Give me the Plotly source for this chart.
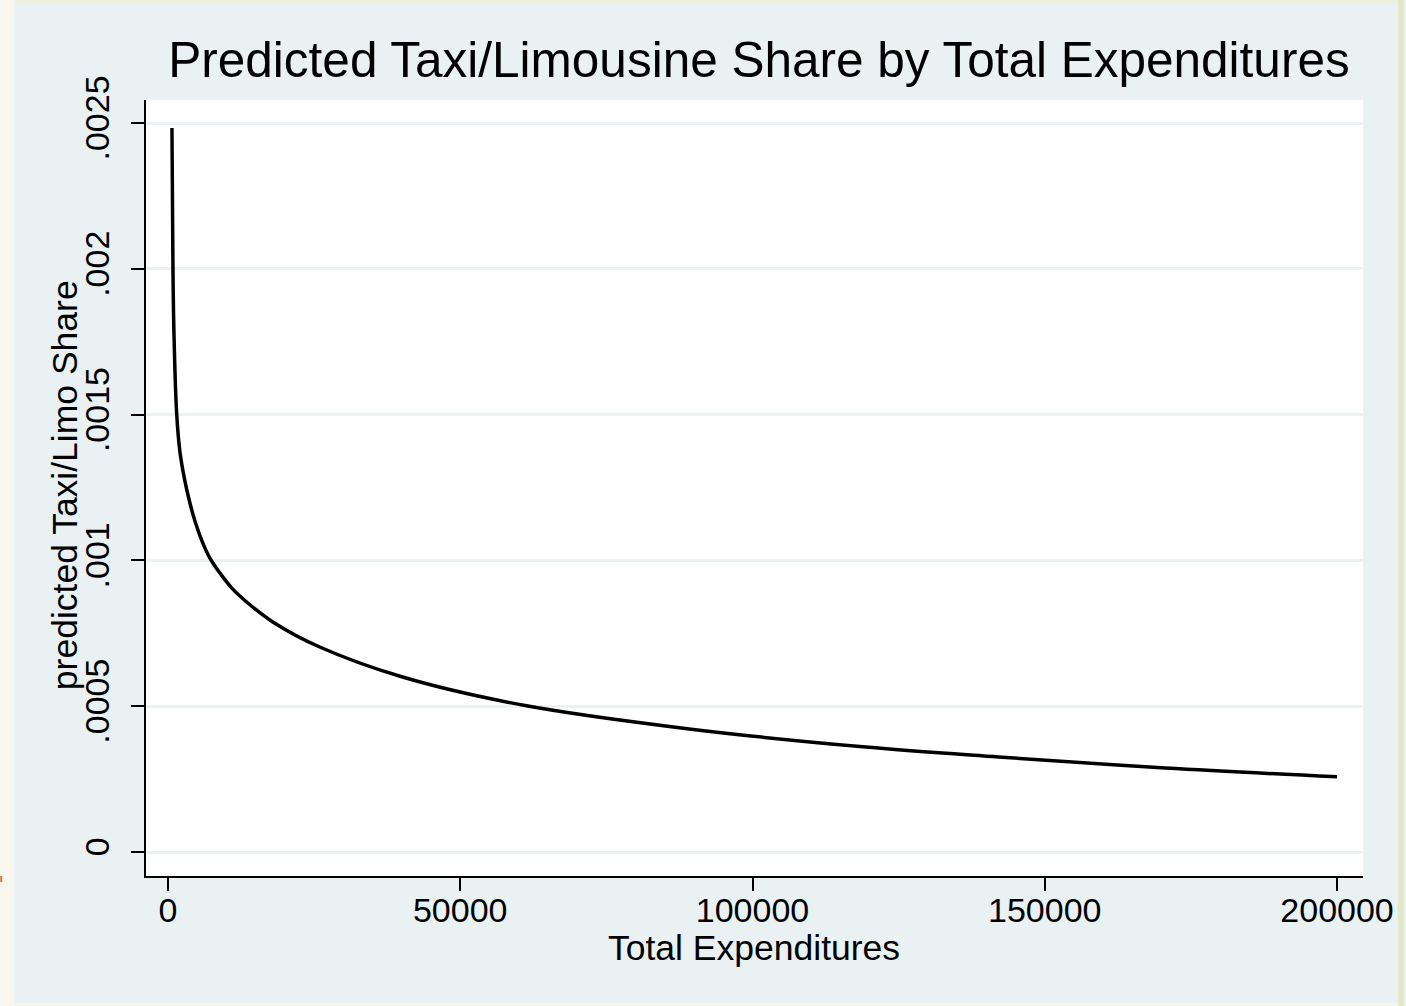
import plotly.graph_objects as go

# Predicted share curve, sampled along total expenditures
total_expenditures = [683, 854, 1025, 1486, 2050, 2903, 3757, 4611, 5807, 7173, 8881,
                      10931, 13663, 17933, 25960, 40136, 60631, 89153, 119383, 142099,
                      170620, 200000]
predicted_share = [0.002483, 0.002006, 0.001780, 0.001505, 0.001372, 0.001272, 0.001197,
                   0.001135, 0.001067, 0.001008, 0.000957, 0.000905, 0.000854, 0.000789,
                   0.000703, 0.000600, 0.000504, 0.000422, 0.000360, 0.000326, 0.000288,
                   0.000258]

x_ticks = [0, 50000, 100000, 150000, 200000]
x_tick_labels = ["0", "50000", "100000", "150000", "200000"]
y_ticks = [0, 0.0005, 0.001, 0.0015, 0.002, 0.0025]
y_tick_labels = ["0", ".0005", ".001", ".0015", ".002", ".0025"]

W, H = 1406, 1006
L, R, T, B = 146, 41, 100, 130
FONT = "Liberation Sans, Arial, sans-serif"


def px_to_paper(px, py):
    return (px - L) / (W - L - R), (H - B - py) / (H - T - B)


def page_rect(x0, y0, x1, y1, color):
    a0, b0 = px_to_paper(x0, y0)
    a1, b1 = px_to_paper(x1, y1)
    return dict(type="rect", xref="paper", yref="paper", x0=a0, y0=b1, x1=a1, y1=b0,
                fillcolor=color, line=dict(width=0), layer="below")


fig = go.Figure()
fig.add_trace(go.Scatter(
    x=total_expenditures, y=predicted_share, mode="lines",
    line=dict(color="black", width=3.5, shape="spline", smoothing=1.0),
    showlegend=False, hoverinfo="skip",
))

shapes = [
    page_rect(0, 0, W, 4, "#eef1dd"),
    page_rect(0, 0, 14, H, "#f7f7ee"),
    page_rect(1400, 0, W, H, "#e1e9c8"),
    page_rect(14, 1003, 1400, H, "#f3f5e6"),
    page_rect(0, 876, 2, 882, "#e07030"),
]

title_x, _ = px_to_paper(760, 0)
xt_x, xt_y = px_to_paper(755, 948)
yt_x, yt_y = px_to_paper(65, 485)
annotations = [
    dict(text="Total Expenditures", xref="paper", yref="paper", x=xt_x, y=xt_y,
         xanchor="center", yanchor="middle", showarrow=False,
         font=dict(size=35.5, family=FONT, color="black")),
    dict(text="predicted Taxi/Limo Share", xref="paper", yref="paper", x=yt_x, y=yt_y,
         xanchor="center", yanchor="middle", showarrow=False, textangle=-90,
         font=dict(size=35.5, family=FONT, color="black")),
]

fig.update_layout(
    width=W, height=H,
    margin=dict(l=L, r=R, t=T, b=B),
    paper_bgcolor="#e9f1f3",
    plot_bgcolor="white",
    font=dict(family=FONT, color="black", size=34),
    title=dict(text="Predicted Taxi/Limousine Share by Total Expenditures",
               font=dict(size=49.5, family=FONT, color="black"),
               x=title_x, xanchor="center", xref="paper", y=1 - 60 / H, yanchor="middle"),
    shapes=shapes,
    annotations=annotations,
    xaxis=dict(
        range=[-3757, 204440], tickvals=x_ticks, ticktext=x_tick_labels,
        showgrid=False, zeroline=False,
        showline=True, linecolor="black", linewidth=2,
        ticks="outside", ticklen=13, tickwidth=2, tickcolor="black",
        tickfont=dict(size=34), ticklabelstandoff=-10,
    ),
    yaxis=dict(
        range=[-0.0000823, 0.002579], tickvals=y_ticks, ticktext=y_tick_labels,
        showgrid=True, gridcolor="#eaf2f3", gridwidth=2.5, zeroline=False,
        showline=True, linecolor="black", linewidth=2,
        ticks="outside", ticklen=13, tickwidth=2, tickcolor="black",
        tickangle=-90, tickfont=dict(size=34), ticklabelstandoff=8,
    ),
)

fig.write_html("out.html")
